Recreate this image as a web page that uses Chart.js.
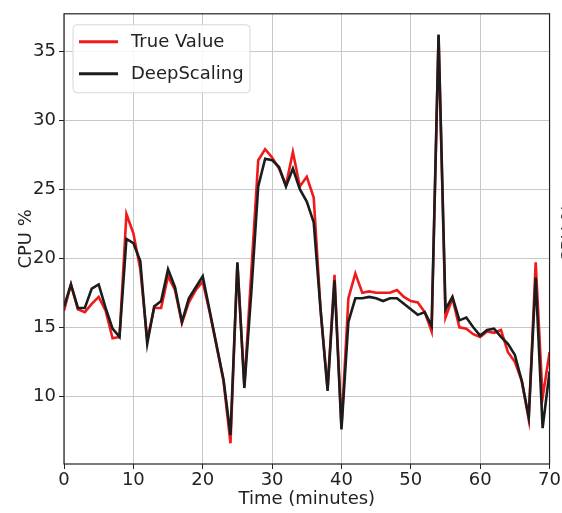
<!DOCTYPE html>
<html>
<head>
<meta charset="utf-8">
<script src="https://cdn.jsdelivr.net/npm/chart.js@4/dist/chart.umd.min.js"></script>
<style>
html,body{margin:0;padding:0;background:#fff;}
#wrap{position:relative;width:562px;height:513px;}
</style>
</head>
<body>
<div id="wrap"><canvas id="c" width="562" height="513"></canvas></div>
<script>
const minutes = [0,1,2,3,4,5,6,7,8,9,10,11,12,13,14,15,16,17,18,19,20,21,22,23,24,25,26,27,28,29,30,31,32,33,34,35,36,37,38,39,40,41,42,43,44,45,46,47,48,49,50,51,52,53,54,55,56,57,58,59,60,61,62,63,64,65,66,67,68,69,70];
const trueValue = [16.2,18.1,16.3,16.1,16.7,17.2,16.2,14.2,14.3,23.2,21.8,19.2,14.1,16.4,16.4,18.7,17.7,15.3,16.8,17.7,18.3,16.1,13.6,11.1,6.6,19.6,10.8,19.0,27.1,27.9,27.3,26.5,25.3,27.7,25.2,25.9,24.4,16.2,10.6,18.8,7.8,17.1,18.9,17.5,17.6,17.5,17.5,17.5,17.7,17.2,16.9,16.8,16.1,14.7,36.1,15.7,17.1,15.0,14.9,14.5,14.3,14.7,14.6,14.8,13.2,12.5,11.1,8.3,19.7,9.9,13.2];
const deepScaling = [16.5,18.1,16.4,16.4,17.8,18.1,16.4,14.9,14.3,21.4,21.1,19.8,13.8,16.5,16.9,19.2,17.9,15.4,17.1,17.9,18.7,16.2,13.7,11.2,7.2,19.7,10.6,17.5,25.2,27.2,27.1,26.6,25.2,26.5,25.0,24.1,22.6,16.2,10.4,18.4,7.6,15.4,17.1,17.1,17.2,17.1,16.9,17.1,17.1,16.7,16.3,15.9,16.1,15.1,36.2,16.3,17.2,15.5,15.7,15.0,14.4,14.8,14.9,14.3,13.8,13.0,11.1,8.5,18.6,7.7,11.8];
const xTicks = [0,10,20,30,40,50,60,70];
const yTicks = [10,15,20,25,30,35];
const seriesNames = ['True Value','DeepScaling'];

const FONT = 'DejaVu Sans';
const redC = '#f01a1a';
const blackC = '#1c1c1c';

const frameAndLegend = {
  id: 'frameAndLegend',
  afterDatasetsDraw(chart) {
    const {ctx, chartArea: a} = chart;
    ctx.save();
    ctx.strokeStyle = '#222';
    ctx.lineWidth = 1.2;
    ctx.strokeRect(a.left, a.top, a.right - a.left, a.bottom - a.top);
    // legend box
    const bx = a.left + 9, by = a.top + 11, bw = 177, bh = 68, r = 4;
    ctx.beginPath();
    ctx.moveTo(bx + r, by);
    ctx.lineTo(bx + bw - r, by); ctx.quadraticCurveTo(bx + bw, by, bx + bw, by + r);
    ctx.lineTo(bx + bw, by + bh - r); ctx.quadraticCurveTo(bx + bw, by + bh, bx + bw - r, by + bh);
    ctx.lineTo(bx + r, by + bh); ctx.quadraticCurveTo(bx, by + bh, bx, by + bh - r);
    ctx.lineTo(bx, by + r); ctx.quadraticCurveTo(bx, by, bx + r, by);
    ctx.closePath();
    ctx.fillStyle = 'rgba(255,255,255,0.85)';
    ctx.fill();
    ctx.strokeStyle = '#d6d6d6';
    ctx.lineWidth = 1;
    ctx.stroke();
    const ds = chart.data.datasets;
    ctx.font = '18px "' + FONT + '"';
    ctx.textBaseline = 'middle';
    ctx.textAlign = 'left';
    ds.forEach((d, i) => {
      const y = by + 17 + i * 32;
      ctx.strokeStyle = d.borderColor;
      ctx.lineWidth = 3;
      ctx.beginPath();
      ctx.moveTo(bx + 6, y); ctx.lineTo(bx + 45, y);
      ctx.stroke();
      ctx.fillStyle = '#222';
      ctx.fillText(d.label, bx + 58, y + 1);
    });
    // cut-off label of neighbouring panel
    ctx.save();
    ctx.translate(569, 233);
    ctx.rotate(-Math.PI / 2);
    ctx.textAlign = 'center';
    ctx.fillStyle = '#333';
    ctx.fillText('CPU %', 0, 0);
    ctx.restore();
    ctx.restore();
  }
};

new Chart(document.getElementById('c'), {
  type: 'line',
  data: {
    datasets: [
      { label: seriesNames[0], data: minutes.map((m, i) => ({x: m, y: trueValue[i]})), borderColor: redC, backgroundColor: redC, borderWidth: 2.6, pointRadius: 0, tension: 0, order: 1 },
      { label: seriesNames[1], data: minutes.map((m, i) => ({x: m, y: deepScaling[i]})), borderColor: blackC, backgroundColor: blackC, borderWidth: 2.6, pointRadius: 0, tension: 0, order: 0 }
    ]
  },
  options: {
    responsive: false,
    animation: false,
    devicePixelRatio: 1,
    layout: { padding: { left: 0, right: 10, top: 9, bottom: 0 } },
    plugins: { legend: { display: false }, tooltip: { enabled: false } },
    scales: {
      x: {
        type: 'linear', min: 0, max: 70,
        afterBuildTicks: s => { s.ticks = xTicks.map(v => ({value: v})); },
        afterFit: s => { s.height = 49; },
        grid: { color: '#c8c8c8', lineWidth: 1, tickLength: 5, tickColor: '#222', drawTicks: true },
        border: { display: false },
        ticks: { color: '#222', font: { family: FONT, size: 18 }, padding: 1, maxRotation: 0 },
        title: { display: true, text: 'Time (minutes)', color: '#222', font: { family: FONT, size: 18 }, padding: { top: 0, bottom: 3 } }
      },
      y: {
        type: 'linear', min: 5.1, max: 37.7,
        afterBuildTicks: s => { s.ticks = yTicks.map(v => ({value: v})); },
        afterFit: s => { s.width = 64; },
        grid: { color: '#c8c8c8', lineWidth: 1, tickLength: 5, tickColor: '#222', drawTicks: true },
        border: { display: false },
        ticks: { color: '#222', font: { family: FONT, size: 18 }, padding: 3 },
        title: { display: true, text: 'CPU %', color: '#222', font: { family: FONT, size: 18 }, padding: { top: 16, bottom: 0 } }
      }
    }
  },
  plugins: [frameAndLegend]
});
</script>
</body>
</html>
